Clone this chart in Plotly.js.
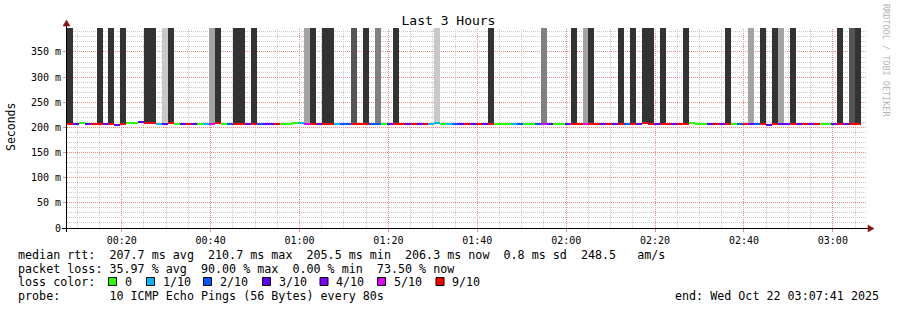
<!DOCTYPE html>
<html>
<head>
<meta charset="utf-8">
<script src="https://cdn.plot.ly/plotly-3.0.1.min.js"></script>
<style>
html,body{margin:0;padding:0;background:#fff;}
#chart{width:897px;height:310px;}
</style>
</head>
<body>
<div id="chart"></div>
<script>
// ---------------- data ----------------
const startTime = Date.UTC(2025, 9, 22, 0, 7, 41); // 00:07:41
const stepSeconds = 80;
const stepCount = 135;

// median RTT per 80 s step (ms)
const medianMs = [
  207.6,207.3,207.9,206.0,207.5,207.2,207.6,207.0,205.6,207.4,
  209.4,209.6,209.9,208.4,208.3,207.6,207.8,208.1,207.5,207.3,
  207.5,207.7,207.6,207.2,207.4,207.9,207.6,207.4,207.6,206.4,
  207.3,206.2,207.5,207.5,207.4,207.6,207.7,207.8,209.3,208.0,
  206.8,207.5,207.4,205.9,207.3,207.5,206.0,206.1,207.4,207.6,
  207.5,207.5,207.3,207.4,207.6,207.5,207.5,206.0,206.1,207.4,
  207.5,206.0,208.5,207.6,206.1,207.4,207.5,207.6,206.0,207.4,
  207.5,207.4,207.5,207.6,207.4,207.5,207.3,207.5,206.2,207.6,
  207.5,207.4,207.6,207.5,207.4,207.3,207.6,206.3,207.5,207.6,
  207.4,207.5,207.3,207.4,207.5,207.6,207.5,209.2,206.6,207.4,
  207.5,207.6,207.4,207.5,207.5,208.9,206.3,206.2,207.4,207.5,
  207.3,207.6,207.5,207.4,207.5,207.3,207.5,207.4,205.8,206.0,
  206.5,207.4,207.5,207.3,207.5,207.6,207.5,207.4,207.5,207.4,
  207.3,207.5,206.3,206.2
];

// lost pings out of 10 per step
const lossCount = [
  9,3,0,3,9,9,3,9,3,9,
  0,0,3,9,9,1,3,9,0,3,
  9,3,0,1,5,9,0,2,9,9,
  3,9,2,3,3,9,0,0,0,1,
  5,9,3,9,9,1,2,2,9,9,
  9,2,2,0,3,9,9,3,9,3,
  9,1,1,0,1,2,3,9,3,9,
  3,9,0,0,0,1,2,0,0,2,
  5,3,0,0,3,9,9,5,9,9,
  3,9,3,9,2,9,3,9,9,3,
  9,9,3,9,9,0,0,0,3,9,
  3,9,0,2,9,3,2,9,3,9,
  3,3,9,3,9,3,9,0,0,3,
  9,3,9,9
];

// smoke density per step (0 = none, 5 = darkest)
const smokeLevel = [
  5,0,0,0,0,5,0,5,0,5,
  0,0,0,5,5,0,1,5,0,0,
  0,0,0,0,2,5,0,0,5,5,
  0,5,0,0,0,0,0,0,0,0,
  2,5,0,5,5,0,0,0,4,0,
  5,0,3,0,0,5,0,0,0,0,
  0,0,1,0,0,0,0,0,0,0,
  0,5,0,0,0,0,0,0,0,0,
  3,0,0,0,0,5,0,2,5,0,
  0,0,0,5,0,5,0,5,5,0,
  5,0,0,0,5,0,0,0,0,0,
  0,5,0,0,0,2,0,5,0,5,
  2,0,5,0,0,0,0,0,0,0,
  5,0,4,5
];

const yTickValues = [0, 50, 100, 150, 200, 250, 300, 350];
const yTickLabels = ["0", "50 m", "100 m", "150 m", "200 m", "250 m", "300 m", "350 m"];
const yMax = 397.7;

const lossLegendCounts = [0, 1, 2, 3, 4, 5, 9];
const lossLegendLabels = ["0", "1/10", "2/10", "3/10", "4/10", "5/10", "9/10"];

const statLines = [
  "median rtt:  207.7 ms avg  210.7 ms max  205.5 ms min  206.3 ms now  0.8 ms sd  248.5   am/s",
  "packet loss: 35.97 % avg  90.00 % max  0.00 % min  73.50 % now"
];
const probeLine = "probe:       10 ICMP Echo Pings (56 Bytes) every 80s";
const endLine = "end: Wed Oct 22 03:07:41 2025";
const titleText = "Last 3 Hours";
const yTitle = "Seconds";
const watermark = "RRDTOOL / TOBI OETIKER";

// ---------------- styles ----------------
const lossColor = {0:"#26ff00",1:"#00b8ff",2:"#0059ff",3:"#5e00ff",4:"#7e00ff",5:"#dd00ff",9:"#ff0000"};
const smokeColor = {1:"#c8c8c8",2:"#a3a3a3",3:"#808080",4:"#555555",5:"#333333"};
const FONT = "DejaVu Sans Mono";
const majorGrid = "#ef8888";
const minorGrid = "#cbcbcb";
const lineHalf = 1.99; // half thickness of median line in ms (1 px)

// plot area pixel geometry
const W = 897, H = 310, L = 67, R = 867, T = 28, B = 228;
const px = v => (v - L) / (R - L);
const py = v => (B - v) / (B - T);
const nb = s => s.replace(/ /g, "\u00a0");

// ---------------- traces ----------------
const stepMs = stepSeconds * 1000;
const endTime = startTime + stepCount * stepMs;
const xs = medianMs.map((_, i) => startTime + (i + 0.5) * stepMs);

const smokeX = [], smokeBase = [], smokeH = [], smokeC = [];
smokeLevel.forEach((lv, i) => {
  if (lv > 0) {
    smokeX.push(xs[i]);
    const b = medianMs[i] + lineHalf;
    smokeBase.push(b);
    smokeH.push(yMax - b);
    smokeC.push(smokeColor[lv]);
  }
});

const smokeTrace = {
  type: "bar", x: smokeX, base: smokeBase, y: smokeH, width: stepMs,
  marker: {color: smokeC, line: {width: 0}}, hoverinfo: "skip", showlegend: false
};
const medianTrace = {
  type: "bar", x: xs, base: medianMs.map(m => m - lineHalf), y: medianMs.map(() => 2 * lineHalf),
  width: stepMs, marker: {color: lossCount.map(c => lossColor[c]), line: {width: 0}},
  hoverinfo: "skip", showlegend: false
};

// ---------------- annotations & shapes ----------------
const annotations = [];
const shapes = [];

// crisp dotted grid (RRD style), positions derived from the axis scales
const dayStart = Date.UTC(2025, 9, 22, 0, 0, 0);
for (let t = dayStart; t < endTime; t += 5 * 60000) {
  if (t <= startTime) continue;
  const pix = Math.floor(L + (t - startTime) / (endTime - startTime) * (R - L)) + 0.5;
  const major = ((t - dayStart) / 60000) % 20 === 0;
  shapes.push({type:"line", xref:"paper", yref:"paper", x0: px(pix), x1: px(pix), y0: 0, y1: 1,
    line:{color: major ? majorGrid : minorGrid, width:1, dash:"1px,1px"}, layer:"below"});
}
for (let v = 10; v < yMax; v += 10) {
  const pix = Math.floor(B - v / yMax * (B - T)) + 0.5;
  const major = v % 50 === 0;
  shapes.push({type:"line", xref:"paper", yref:"paper", x0: 0, x1: 1, y0: py(pix), y1: py(pix),
    line:{color: major ? majorGrid : minorGrid, width:1, dash:"1px,1px"}, layer:"below"});
}

annotations.push({xref:"paper", yref:"paper", x: px(11), y: py(127), text: yTitle, textangle: -90,
  showarrow:false, xanchor:"center", yanchor:"middle", font:{family:FONT, size:11.5, color:"#000"}});
annotations.push({xref:"paper", yref:"paper", x: px(886), y: py(60), text: nb(watermark), textangle: 90,
  showarrow:false, xanchor:"center", yanchor:"middle", font:{family:FONT, size:8.5, color:"#b4b4b4"}});

const lineY = [255, 268.5, 282, 296];
statLines.forEach((s, k) => annotations.push({xref:"paper", yref:"paper", x: px(16), y: py(lineY[k]),
  text: nb(s), showarrow:false, xanchor:"left", yanchor:"middle", font:{family:FONT, size:11.7, color:"#000"}}));
annotations.push({xref:"paper", yref:"paper", x: px(16), y: py(lineY[2]), text: nb("loss color:"),
  showarrow:false, xanchor:"left", yanchor:"middle", font:{family:FONT, size:11.7, color:"#000"}});
const boxLeft = [108, 146, 203, 262, 319.5, 377, 435.5];
lossLegendCounts.forEach((c, k) => {
  const x0 = boxLeft[k];
  shapes.push({type:"rect", xref:"paper", yref:"paper", x0: px(x0 + 0.5), x1: px(x0 + 8.5), y0: py(285.5), y1: py(277.5),
    fillcolor: lossColor[c], line:{color:"#000", width:1}});
  annotations.push({xref:"paper", yref:"paper", x: px(x0 + 14.5), y: py(lineY[2]), text: lossLegendLabels[k],
    showarrow:false, xanchor:"left", yanchor:"middle", font:{family:FONT, size:11.7, color:"#000"}});
});
annotations.push({xref:"paper", yref:"paper", x: px(16), y: py(lineY[3]), text: nb(probeLine),
  showarrow:false, xanchor:"left", yanchor:"middle", font:{family:FONT, size:11.7, color:"#000"}});
annotations.push({xref:"paper", yref:"paper", x: px(881), y: py(lineY[3]), text: nb(endLine),
  showarrow:false, xanchor:"right", yanchor:"middle", font:{family:FONT, size:11.7, color:"#000"}});

// axis lines and arrows
shapes.push({type:"line", xref:"paper", yref:"paper", x0: px(62), x1: px(869), y0: py(228.5), y1: py(228.5),
  line:{color:"#000", width:1}, layer:"above"});
shapes.push({type:"line", xref:"paper", yref:"paper", x0: px(66.5), x1: px(66.5), y0: py(232), y1: py(23),
  line:{color:"#000", width:1}, layer:"above"});
function path(pts){ return "M" + pts.map(p => px(p[0]) + "," + py(p[1])).join(" L") + " Z"; }
shapes.push({type:"path", xref:"paper", yref:"paper", path: path([[868,225],[874,228.5],[868,232]]),
  fillcolor:"#8b1414", line:{color:"#8b1414", width:0.5}, layer:"above"});
shapes.push({type:"path", xref:"paper", yref:"paper", path: path([[63,26],[66.5,20],[70,26]]),
  fillcolor:"#8b1414", line:{color:"#8b1414", width:0.5}, layer:"above"});

// ---------------- layout ----------------
const layout = {
  width: W, height: H,
  margin: {l: L, r: W - R, t: T, b: H - B, pad: 0},
  paper_bgcolor: "#fff", plot_bgcolor: "#fff",
  barmode: "overlay", bargap: 0,
  font: {family: FONT, size: 10, color: "#000"},
  title: {text: titleText, x: 0.5, xref: "container", xanchor: "center", y: 1 - 20 / H, yref: "container",
    yanchor: "middle", font: {family: FONT, size: 13, color: "#000"}},
  xaxis: {
    type: "date", range: [startTime, endTime],
    tickformat: "%H:%M", tickmode: "linear", tick0: dayStart, dtick: 20 * 60000,
    showgrid: false,
    ticks: "outside", ticklen: 3, tickcolor: majorGrid,
    tickfont: {family: FONT, size: 10, color: "#000"},
    showline: false, zeroline: false, fixedrange: true
  },
  yaxis: {
    range: [0, yMax], tickmode: "array", tickvals: yTickValues, ticktext: yTickLabels,
    showgrid: false,
    ticks: "outside", ticklen: 3, tickcolor: majorGrid,
    tickfont: {family: FONT, size: 10, color: "#000"},
    showline: false, zeroline: false, fixedrange: true
  },
  annotations: annotations,
  shapes: shapes,
  showlegend: false
};

Plotly.newPlot("chart", [smokeTrace, medianTrace], layout, {displayModeBar: false, staticPlot: true});
</script>
</body>
</html>
